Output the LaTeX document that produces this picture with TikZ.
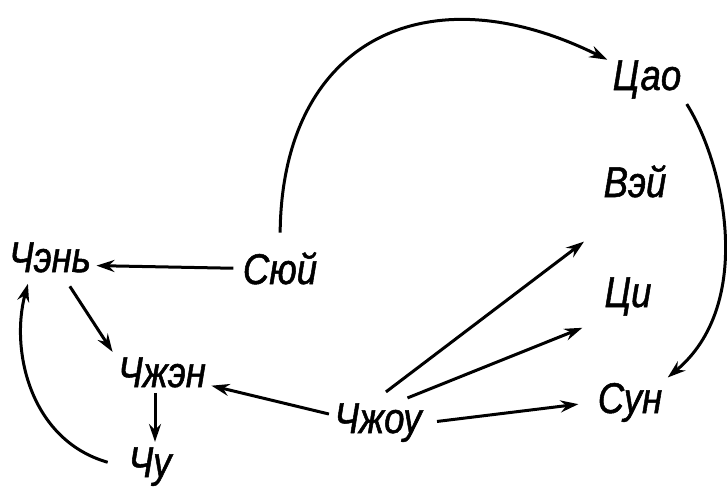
\documentclass[tikz,border=0pt]{standalone}
\usepackage{fontspec}
\newfontfamily\statefont{Liberation Sans}[FakeStretch=0.85,FakeBold=1.2]
\usetikzlibrary{arrows.meta}
\usetikzlibrary{positioning}

\begin{document}
\begin{tikzpicture}[
    x=0.5pt, y=-0.5pt,
    line width=1.5pt,
    font=\statefont\itshape\fontsize{21.5}{24}\selectfont
]
\tikzset{
    statenode/.style = {inner sep=2pt, anchor=base},
    edgen/.style = {-{Stealth[length=9pt,width=6pt,inset=3pt]}, line width=1.5pt}
}
\useasboundingbox (0,0) rectangle (727,489);
\node[statenode] at (647,90)  (cao)   {Цао};
\node[statenode] at (635,197) (wei)   {Вэй};
\node[statenode] at (50,272)  (chen)  {Чэнь};
\node[statenode] at (280,284) (xu)    {Сюй};
\node[statenode] at (628,307) (qi)    {Ци};
\node[statenode] at (162,387) (zheng) {Чжэн};
\node[statenode] at (630,413) (song)  {Сун};
\node[statenode] at (378,433) (zhou)  {Чжоу};
\node[statenode] at (150,477) (chu)   {Чу};
% curved arrows
\draw[edgen, shorten <=7pt] (xu.north) .. controls (282,40) and (427,-30) .. (cao);
\draw[edgen] (cao.south east) .. controls (725,165) and (755,305) .. (song.north east);
\draw[edgen, shorten <=8pt, shorten >=3pt] (chu.west) .. controls (30,440) and (10,350) .. (chen.-135);
% straight arrows
\draw[edgen, shorten <=2pt] (xu.west) -- (chen.-10);
\draw[edgen, shorten <=5pt] (chen.-55) -- (zheng.north west);
\draw[edgen] ([xshift=2.5pt]zheng.south -| chu.north) -- ([xshift=2.5pt]chu.north);
\draw[edgen] (zhou.170) -- (zheng.-15);
\draw[edgen, shorten <=5pt, shorten >=32pt] (zhou.north) -- (wei.south);
\draw[edgen, shorten >=9pt] (zhou.40) -- (qi.south west);
\draw[edgen, shorten <=5pt, shorten >=7pt] (zhou.east) -- (song.west);
\end{tikzpicture}
\end{document}
